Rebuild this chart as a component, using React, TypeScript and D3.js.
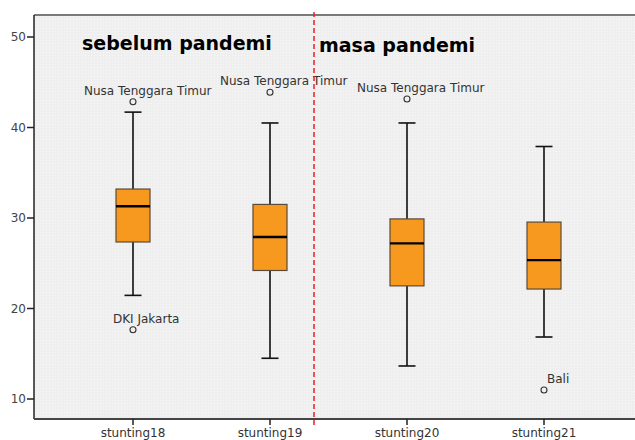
import React from "react";
import * as d3 from "d3";

const categories = ["stunting18", "stunting19", "stunting20", "stunting21"];
const q1Values = [27.35, 24.2, 22.5, 22.15];
const medianValues = [31.3, 27.9, 27.2, 25.35];
const q3Values = [33.2, 31.5, 29.9, 29.55];
const whiskerLow = [21.45, 14.5, 13.65, 16.85];
const whiskerHigh = [41.7, 40.5, 40.5, 37.9];
const outlierCategory = ["stunting18", "stunting18", "stunting19", "stunting20", "stunting21"];
const outlierValues = [42.85, 17.65, 43.9, 43.15, 11.0];
const outlierLabels = ["Nusa Tenggara Timur", "DKI Jakarta", "Nusa Tenggara Timur", "Nusa Tenggara Timur", "Bali"];
const outlierLabelDx = [-49, -20, -50, -50, 3];
const yTicks = [10, 20, 30, 40, 50];
const periodLabels = ["sebelum pandemi", "masa pandemi"];

const W = 635;
const H = 440;
const plotLeft = 34;
const plotRight = 643;
const plotTop = 15;
const plotBottom = 419;
const boxW = 34;
const capW = 17;

export default function App() {
  const y = d3.scaleLinear().domain([10, 50]).range([399, 37]);
  const x = d3.scalePoint<string>().domain(categories).range([133, 544]);
  const font = "'DejaVu Sans', Verdana, sans-serif";

  return (
    <svg width={W} height={H} style={{ position: "absolute", left: 0, top: 0, background: "#fff" }}>
      <defs>
        <pattern id="dots" width="3" height="3" patternUnits="userSpaceOnUse">
          <rect width="3" height="3" fill="#efefef" />
          <rect x="1" y="1" width="1" height="1" fill="#f8f8f8" />
        </pattern>
      </defs>
      <rect x={plotLeft} y={plotTop} width={plotRight - plotLeft} height={plotBottom - plotTop} fill="url(#dots)" />
      <line x1={plotLeft} x2={W} y1={plotTop} y2={plotTop} stroke="#7a7a7a" strokeWidth={2} />
      <line x1={plotLeft} x2={plotLeft} y1={plotTop} y2={plotBottom} stroke="#222" strokeWidth={1.5} />
      {yTicks.map((t) => (
        <g key={t}>
          <line x1={plotLeft - 7} x2={plotLeft} y1={y(t)} y2={y(t)} stroke="#222" strokeWidth={1.5} />
          <text x={plotLeft - 8} y={y(t) + 4} textAnchor="end" fontFamily={font} fontSize={12} fill="#444">
            {t}
          </text>
        </g>
      ))}
      <line x1={plotLeft} x2={W} y1={plotBottom} y2={plotBottom} stroke="#444" strokeWidth={2} />
      {categories.map((c) => (
        <g key={c}>
          <line x1={x(c)!} x2={x(c)!} y1={plotBottom} y2={plotBottom + 6} stroke="#222" strokeWidth={1.5} />
          <text x={x(c)!} y={437} textAnchor="middle" fontFamily={font} fontSize={12} fill="#333">
            {c}
          </text>
        </g>
      ))}
      {categories.map((c, i) => {
        const cx = x(c)!;
        return (
          <g key={c}>
            <line x1={cx} x2={cx} y1={y(whiskerHigh[i])} y2={y(q3Values[i])} stroke="#111" strokeWidth={1.6} />
            <line x1={cx} x2={cx} y1={y(q1Values[i])} y2={y(whiskerLow[i])} stroke="#111" strokeWidth={1.6} />
            <line x1={cx - capW / 2} x2={cx + capW / 2} y1={y(whiskerHigh[i])} y2={y(whiskerHigh[i])} stroke="#111" strokeWidth={1.6} />
            <line x1={cx - capW / 2} x2={cx + capW / 2} y1={y(whiskerLow[i])} y2={y(whiskerLow[i])} stroke="#111" strokeWidth={1.6} />
            <rect
              x={cx - boxW / 2}
              y={y(q3Values[i])}
              width={boxW}
              height={y(q1Values[i]) - y(q3Values[i])}
              fill="#f7991f"
              stroke="#5a4a3a"
              strokeWidth={1.2}
            />
            <line x1={cx - boxW / 2} x2={cx + boxW / 2} y1={y(medianValues[i])} y2={y(medianValues[i])} stroke="#000" strokeWidth={2.4} />
          </g>
        );
      })}
      {outlierValues.map((v, i) => {
        const cx = x(outlierCategory[i])!;
        const cy = y(v);
        return (
          <g key={i}>
            <circle cx={cx} cy={cy} r={3} fill="none" stroke="#333" strokeWidth={1.1} />
            <text x={cx + outlierLabelDx[i]} y={cy - 7} fontFamily={font} fontSize={12} fill="#333">
              {outlierLabels[i]}
            </text>
          </g>
        );
      })}
      <line x1={314} x2={314} y1={12} y2={428} stroke="#e8202a" strokeWidth={1.5} strokeDasharray="5,3" />
      <text x={82} y={50} fontFamily={font} fontWeight="bold" fontSize={19} fill="#000">
        {periodLabels[0]}
      </text>
      <text x={319} y={52} fontFamily={font} fontWeight="bold" fontSize={19} fill="#000">
        {periodLabels[1]}
      </text>
    </svg>
  );
}
